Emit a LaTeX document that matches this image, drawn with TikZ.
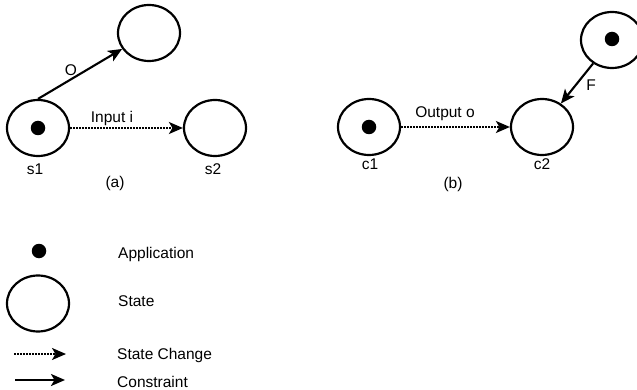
\documentclass[tikz,border=0pt]{standalone}
\usepackage{fontspec}
\setmainfont{Liberation Sans}
\usetikzlibrary{shapes.geometric,arrows.meta}
\begin{document}
\begin{tikzpicture}[x=1pt,y=-1pt,
  state/.style={draw,line width=2.2pt,ellipse,minimum width=62pt,minimum height=56pt,inner sep=0pt},
  app/.style={fill=black,circle,minimum size=14.5pt,inner sep=0pt},
  lbl/.style={font=\fontsize{15.5}{18}\selectfont,inner sep=0pt},
  constraint/.style={line width=2.1pt,-{Stealth[length=14pt,width=12pt,inset=3.5pt]}},
  change/.style={line width=1.9pt,dash pattern=on 1.6pt off 1.4pt,-{Stealth[length=14pt,width=12pt,inset=3.5pt]}}]
\useasboundingbox (0,0) rectangle (637,390);
\begin{scope}
\clip (0,0) rectangle (637,390);
% (a)
\node[state] (s1) at (38,128) {};
\node[app] (d1) at (38,128) {};
\node[state] (t1) at (149,33) {};
\node[state] (s2) at (215,128) {};
\draw[constraint] (s1.north) -- (t1);
\draw[change] (s1.east) -- (s2.west);
\node[lbl] (lo) at (71,70) {O};
\node[lbl] (li) at (112,118) {Input i};
\node[lbl] (ls1) at (35,169) {s1};
\node[lbl] (ls2) at (213,169) {s2};
\node[lbl] (la) at (115,183.5) {(a)};
% (b)
\node[state] (c1) at (369,127) {};
\node[app] (d2) at (369,127) {};
\node[state] (c2) at (542,127) {};
\node[state] (f1) at (612,40) {};
\node[app] (d3) at (612,39) {};
\draw[change] (c1.east) -- (c2.west);
\draw[constraint] (f1) -- (c2);
\node[lbl] (lout) at (445,114) {Output o};
\node[lbl] (lf) at (591,85) {F};
\node[lbl] (lc1) at (370,164) {c1};
\node[lbl] (lc2) at (542,164) {c2};
\node[lbl] (lb) at (453,184) {(b)};
% legend
\node[app] (ld) at (39,251) {};
\node[state] (le) at (38,303.5) {};
\coordinate (sa) at (14,354);
\coordinate (sb) at (66,354);
\coordinate (ca) at (15,380);
\coordinate (cb) at (65,380);
\draw[change] (sa) -- (sb);
\draw[constraint] (ca) -- (cb);
\node[lbl,anchor=west] (t1l) at (118,254) {Application};
\node[lbl,anchor=west] (t2l) at (118,301) {State};
\node[lbl,anchor=west] (t3l) at (117,355.5) {State Change};
\node[lbl,anchor=west] (t4l) at (117,382) {Constraint};
\end{scope}
\end{tikzpicture}
\end{document}
